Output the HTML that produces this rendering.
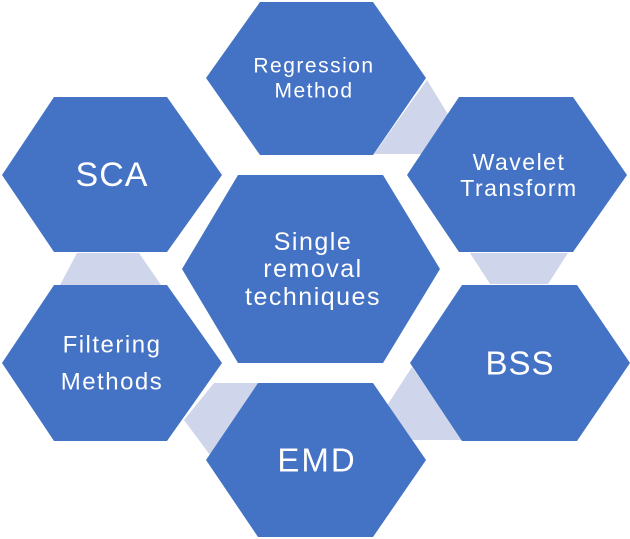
<!DOCTYPE html>
<html><head><meta charset="utf-8"><style>
html,body{margin:0;padding:0;background:#fff;}
svg{display:block;}
text{font-family:"Liberation Sans",sans-serif;fill:#fff;text-anchor:middle;dominant-baseline:central;}
</style></head><body>
<svg width="630" height="539" viewBox="0 0 630 539" xmlns="http://www.w3.org/2000/svg">
<g fill="#cfd5ea">
<polygon points="427,80 449,116 422,154 374,154"/>
<polygon points="470,253 568,253 548,284 490,284"/>
<polygon points="77,253 139,253 161,285 60,285"/>
<polygon points="214,383 258,383 210,455 184,420"/>
<polygon points="412,367 462,440 403,440 388,404"/>
</g>
<g fill="#4472c4">
<polygon points="260,2 373,2 426,78 373,155 260,155 206,78"/>
<polygon points="54,97 167,97 222,175 167,252 54,252 2,175"/>
<polygon points="459,97 573,97 627,175 573,252 459,252 407,175"/>
<polygon points="238,175 383,175 440,269 383,363 238,363 182,269"/>
<polygon points="54,285 167,285 222,363 167,441 54,441 2,363"/>
<polygon points="462,285 577,285 630,363 577,441 462,441 410,363"/>
<polygon points="258,383 373,383 426,460 373,537 258,537 206,460"/>
</g>
<text x="314" y="66" font-size="21" letter-spacing="1.5">Regression</text>
<text x="314" y="91" font-size="21" letter-spacing="1.5">Method</text>
<text x="519" y="162" font-size="23" letter-spacing="1.5">Wavelet</text>
<text x="519" y="188" font-size="23" letter-spacing="1.5">Transform</text>
<text x="112" y="175" font-size="34" letter-spacing="1">SCA</text>
<text x="313" y="242" font-size="25" letter-spacing="1.5">Single</text>
<text x="313" y="269" font-size="25" letter-spacing="1.5">removal</text>
<text x="313" y="297" font-size="25" letter-spacing="1.5">techniques</text>
<text x="112" y="345" font-size="24" letter-spacing="1.5">Filtering</text>
<text x="112" y="382" font-size="24" letter-spacing="1.5">Methods</text>
<text x="520" y="363" font-size="33" letter-spacing="1">BSS</text>
<text x="317" y="460" font-size="33" letter-spacing="2">EMD</text>
</svg>
</body></html>
